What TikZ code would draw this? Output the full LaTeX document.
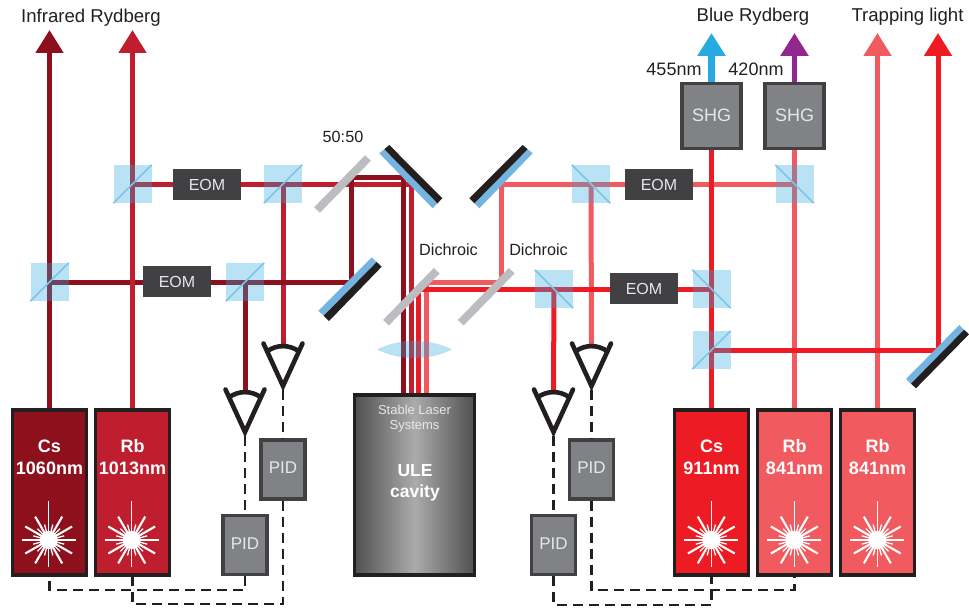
\documentclass[tikz,border=0pt]{standalone}
\usepackage{fontspec}
\setmainfont{Liberation Sans}
\usetikzlibrary{arrows.meta,calc}
\pgfdeclarelayer{bg}
\pgfsetlayers{bg,main}
\definecolor{csdark}{HTML}{8F101D}
\definecolor{rbmid}{HTML}{BE1E2D}
\definecolor{csred}{HTML}{ED1C24}
\definecolor{rbpink}{HTML}{F15A5F}
\definecolor{cubeblue}{HTML}{29ABE2}
\definecolor{cubeline}{HTML}{7CC5E9}
\definecolor{mirrorblue}{HTML}{74B4E0}
\definecolor{inkdark}{HTML}{231F20}
\definecolor{boxgrey}{HTML}{808285}
\definecolor{boxedge}{HTML}{414042}
\definecolor{glassgrey}{HTML}{BCBDC0}
\definecolor{boxtext}{HTML}{E6E7E8}
\definecolor{arrowblue}{HTML}{27AAE1}
\definecolor{arrowpurple}{HTML}{92278F}
\definecolor{ulecenter}{HTML}{ABABAC}
\definecolor{uleedge}{HTML}{505052}
\tikzset{
  beam/.style={line width=5pt},
  beamtip/.style={-{Triangle[length=23pt,width=27pt]}},
  lasersrc/.style={draw=inkdark,line width=3.4pt,minimum width=74pt,minimum height=165pt,inner sep=0pt},
  cube/.style={fill=cubeblue,fill opacity=.33,minimum size=38pt,inner sep=0pt},
  cubediag/.style={draw=cubeline,line width=1.6pt},
  eom/.style={fill=boxedge,minimum width=68pt,minimum height=31pt,inner sep=0pt,text=boxtext,font=\fontsize{16}{18}\selectfont},
  ctrl/.style={fill=boxgrey,draw=boxedge,line width=3.2pt,minimum width=44pt,minimum height=59pt,inner sep=0pt,text=boxtext,font=\fontsize{17}{19}\selectfont},
  shg/.style={fill=boxgrey,draw=boxedge,line width=3.2pt,minimum width=59pt,minimum height=65pt,inner sep=0pt,text=boxtext,font=\fontsize{18}{20}\selectfont},
  lasertext/.style={text=white,align=center,font=\fontsize{18}{22}\selectfont\bfseries,inner sep=0pt},
  lbl/.style={text=inkdark,inner sep=0pt},
  lbllarge/.style={lbl,font=\fontsize{18}{20}\selectfont},
  lbltop/.style={lbl,font=\fontsize{18.6}{20}\selectfont},
  lblsmall/.style={lbl,font=\fontsize{16.2}{18}\selectfont},
  glass/.style={draw=glassgrey,line width=8pt},
  feedback/.style={draw=inkdark,line width=2.8pt,dash pattern=on 10pt off 6pt},
  eyeline/.style={draw=inkdark,line width=4.6pt,line cap=round,line join=miter},
}
\newcommand{\burstat}[2]{%
  \begin{scope}[shift={(#1,#2)}]
    \fill[white] (0,0) circle (9);
    \draw[white,line width=1.5pt] (0,0) -- (0,-39) (0,0) -- (0,27) (-27,0) -- (27,0);
    \foreach \a in {30,60,120,150,210,240,300,330}
      \draw[white,line width=2.1pt] (0,0) -- (\a:27);
    \foreach \a in {15,45,75,105,135,165,195,225,255,285,315,345}
      \draw[white,line width=1.3pt] (0,0) -- (\a:16);
  \end{scope}}
\newcommand{\eyeat}[3]{%
  \coordinate (#1tip) at (#2,#3);
  \coordinate (#1top) at (#2,#3-40);
  \draw[eyeline] (#2-19.5,#3-42.5) -- (#1tip) -- (#2+19.5,#3-42.5);
  \draw[eyeline] (#2-15.5,#3-35) .. controls (#2-6,#3-41.5) and (#2+6,#3-41.5) .. (#2+15.5,#3-35);}
\newcommand{\up}[2]{\raisebox{#1pt}{#2}}
\begin{document}
\begin{tikzpicture}[x=1pt,y=-1pt]
\useasboundingbox (0,0) rectangle (969,610);

% sources
\node[lasersrc,fill=csdark] (csA) at (49.5,492.5) {};
\node[lasersrc,fill=rbmid] (rbA) at (132.5,492.5) {};
\node[lasersrc,fill=csred] (csB) at (711.5,492.5) {};
\node[lasersrc,fill=rbpink] (rbB) at (794.5,492.5) {};
\node[lasersrc,fill=rbpink] (rbC) at (877.5,492.5) {};
\node[lasertext] (csAt) at (49.5,457) {Cs\\1060nm};
\node[lasertext] (rbAt) at (132.5,457) {Rb\\1013nm};
\node[lasertext] (csBt) at (711.5,457) {Cs\\911nm};
\node[lasertext] (rbBt) at (794.5,457) {Rb\\841nm};
\node[lasertext] (rbCt) at (877.5,457) {Rb\\841nm};
\burstat{48.7}{540}
\burstat{131.7}{540}
\burstat{711.3}{540}
\burstat{794.3}{540}
\burstat{877.3}{540}

% cavity
\node[draw=inkdark,line width=3.2pt,minimum width=120pt,minimum height=180pt,inner sep=0pt,
  left color=uleedge,right color=uleedge,middle color=ulecenter] (ule) at (414.5,485) {};
\node[text=boxtext,align=center,font=\fontsize{13}{15}\selectfont,inner sep=0pt] (ulea) at (414.5,419) {Stable Laser\\Systems};
\node[text=white,align=center,font=\fontsize{17.5}{21}\selectfont\bfseries,inner sep=0pt] (uleb) at (415,482.5) {ULE\\cavity};

% beam-splitter cubes
\node[cube] (bs1) at (132.5,184) {};
\node[cube] (bs2) at (283,184) {};
\node[cube] (bs3) at (49.5,282) {};
\node[cube] (bs4) at (245,282) {};
\node[cube] (bs5) at (591,184) {};
\node[cube] (bs6) at (794.5,184) {};
\node[cube] (bs7) at (554,289) {};
\node[cube] (bs8) at (711.5,289) {};
\node[cube] (bs9) at (711.5,350) {};
\draw[cubediag] (bs1.south west) -- (bs1.north east);
\draw[cubediag] (bs2.south west) -- (bs2.north east);
\draw[cubediag] (bs3.south west) -- (bs3.north east);
\draw[cubediag] (bs4.south west) -- (bs4.north east);
\draw[cubediag] (bs5.north west) -- (bs5.south east);
\draw[cubediag] (bs6.north west) -- (bs6.south east);
\draw[cubediag] (bs7.north west) -- (bs7.south east);
\draw[cubediag] (bs8.north west) -- (bs8.south east);
\draw[cubediag] (bs9.south west) -- (bs9.north east);

% modulators and frequency doublers
\node[eom] (eom1) at (207,184.5) {\up{-.5}{EOM}};
\node[eom] (eom2) at (177,281.5) {\up{-1}{EOM}};
\node[eom] (eom3) at (659,184.5) {\up{-.5}{EOM}};
\node[eom] (eom4) at (644,288.5) {\up{-1}{EOM}};
\node[shg] (shg1) at (711.5,116) {\up{2}{SHG}};
\node[shg] (shg2) at (794.5,116) {\up{2}{SHG}};

% servo boxes
\node[ctrl] (pid1) at (283,469.5) {\up{3}{PID}};
\node[ctrl] (pid2) at (245,545) {\up{2}{PID}};
\node[ctrl] (pid3) at (591.5,469.5) {\up{3}{PID}};
\node[ctrl] (pid4) at (553.5,545) {\up{2}{PID}};

% detectors
\eyeat{eye1}{283}{386}
\eyeat{eye2}{245}{432}
\eyeat{eye3}{591.5}{386}
\eyeat{eye4}{553.5}{432}

% free beam ends and turning points
\coordinate (tipCs) at (49.5,30);
\coordinate (tipRb) at (132.5,30);
\coordinate (tipB) at (711.5,33);
\coordinate (tipP) at (794.5,33);
\coordinate (tipT) at (877.5,33);
\coordinate (tipR) at (938,33);
\coordinate (mA) at (351,282);
\coordinate (mAt) at (351,177);
\coordinate (dkturn) at (403,177);
\coordinate (rbturn) at (411,184);
\coordinate (rdturn) at (418.5,289);
\coordinate (pkturn) at (426,282);
\coordinate (pkmid) at (501,282);
\coordinate (pktop) at (501,184);
\coordinate (mR) at (938,350);

\begin{pgfonlayer}{bg}
  \draw[beam,rbmid] (bs2.center) -- (eye1top);
  \draw[beam,rbmid] (bs1.center) -- (rbturn) -- (rbturn |- ule.north);
  \draw[beam,csdark] (bs3.center) -- (mA) -- (mAt) -- (dkturn) -- (dkturn |- ule.north);
  \draw[beam,csdark] (bs4.center) -- (eye2top);
  \draw[beam,csdark,beamtip] (csA.north) -- (tipCs);
  \draw[beam,rbmid,beamtip] (rbA.north) -- (tipRb);

  \draw[beam,rbpink] (bs6.center) -- (pktop) -- (pkmid) -- (pkturn) -- (pkturn |- ule.north);
  \draw[beam,rbpink] (bs5.center) -- (eye3top);
  \draw[beam,rbpink] (rbB.north) -- (shg2.south);
  \draw[beam,rbpink,beamtip] (rbC.north) -- (tipT);
  \draw[beam,csred] (bs7.center) -- (eye4top);
  \draw[beam,csred] (bs8.center) -- (rdturn) -- (rdturn |- ule.north);
  \draw[beam,csred] (csB.north) -- (shg1.south);
  \draw[beam,csred,beamtip] (bs9.center) -- (mR) -- (tipR);
  \draw[line width=6.5pt,arrowblue,beamtip] (shg1.north) -- (tipB);
  \draw[line width=5.5pt,arrowpurple,beamtip] (shg2.north) -- (tipP);
\end{pgfonlayer}

% turning mirrors
\fill[mirrorblue] (379.3,153.3) -- (384.3,149.2) -- (437.5,203.3) -- (432.7,208.3) -- cycle;
\fill[inkdark] (389.3,145) -- (384.3,149.2) -- (437.5,203.3) -- (442.3,198.3) -- cycle;
\fill[mirrorblue] (532.7,153.3) -- (527.7,149.2) -- (474.3,203.3) -- (479.3,208.3) -- cycle;
\fill[inkdark] (522.7,145) -- (527.7,149.2) -- (474.3,203.3) -- (469.3,198.3) -- cycle;
\fill[mirrorblue] (371.7,257.3) -- (376.7,262) -- (323.7,315.8) -- (318.3,310.7) -- cycle;
\fill[inkdark] (381.7,266.7) -- (376.7,262) -- (323.7,315.8) -- (329,321) -- cycle;
\fill[mirrorblue] (959.3,325) -- (964.1,329.7) -- (911,383.7) -- (906,379) -- cycle;
\fill[inkdark] (969,334.3) -- (964.1,329.7) -- (911,383.7) -- (916,388.3) -- cycle;

% partial mirrors
\coordinate (ga) at (317,210);
\coordinate (gb) at (368,158);
\coordinate (gc) at (386,322.7);
\coordinate (gd) at (436.7,270.7);
\coordinate (ge) at (460.7,322.7);
\coordinate (gf) at (511.7,270.7);
\draw[glass] (ga) -- (gb);
\draw[glass] (gc) -- (gd);
\draw[glass] (ge) -- (gf);

% lens
\fill[cubeblue,fill opacity=.33] (377,349.5) .. controls (400,338) and (429,338) .. (452,349.5)
  .. controls (429,361) and (400,361) .. (377,349.5) -- cycle;

% feedback wiring
\coordinate (fa) at (245,590);
\coordinate (fb) at (283,604);
\coordinate (fc) at (553.5,605);
\coordinate (fd) at (591.5,590);
\draw[feedback] (eye1tip) ++(0,4) -- (pid1.north);
\draw[feedback] (eye2tip) ++(0,4) -- (pid2.north);
\draw[feedback] (eye3tip) ++(0,4) -- (pid3.north);
\draw[feedback] (eye4tip) ++(0,4) -- (pid4.north);
\draw[feedback] (pid2.south) -- (fa) -- (fa -| csA.south) -- (csA.south);
\draw[feedback] (pid1.south) -- (fb) -- (fb -| rbA.south) -- (rbA.south);
\draw[feedback] (pid4.south) -- (fc) -- (fc -| csB.south) -- (csB.south);
\draw[feedback] (pid3.south) -- (fd) -- (fd -| rbB.south) -- (rbB.south);

% labels
\node[lbltop] (l1) at (91,17.5) {Infrared Rydberg};
\node[lbltop] (l2) at (753,17) {Blue Rydberg};
\node[lbltop] (l3) at (907.5,17) {Trapping light};
\node[lbllarge] (l4) at (674,69) {455nm};
\node[lbllarge] (l5) at (756,69) {420nm};
\node[lblsmall] (l6) at (343,137) {50:50};
\node[lblsmall] (l7) at (448.5,249.5) {Dichroic};
\node[lblsmall] (l8) at (538.5,249.5) {Dichroic};
\end{tikzpicture}
\end{document}
